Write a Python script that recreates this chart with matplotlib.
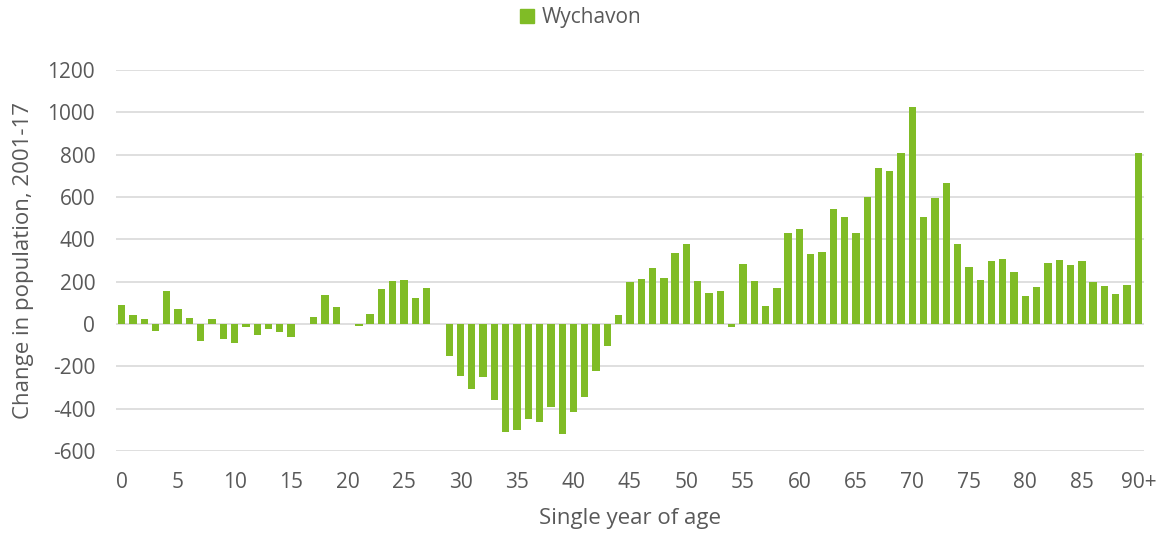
import numpy as np
import matplotlib
matplotlib.use('Agg')
import matplotlib.pyplot as plt
from matplotlib.patches import Patch

plt.rcParams['font.family'] = ['Open Sans', 'DejaVu Sans']

# change in population 2001-17 by single year of age (0 .. 90+)
ages = [str(a) for a in range(90)] + ['90+']
change = [88, 43, 22, -35, 156, 73, 28, -82, 22, -69,
          -90, -16, -50, -22, -38, -60, 0, 33, 139, 80,
          0, -8, 46, 166, 204, 210, 125, 172, 0, -152,
          -248, -306, -251, -360, -508, -502, -448, -464, -393, -518,
          -414, -344, -221, -103, 44, 200, 212, 265, 215, 336,
          379, 204, 148, 156, -16, 283, 204, 84, 172, 431,
          447, 331, 341, 545, 507, 432, 601, 739, 725, 808,
          1026, 507, 594, 665, 380, 270, 208, 297, 306, 246,
          131, 177, 287, 300, 278, 298, 197, 180, 142, 183,
          808]
series_name = 'Wychavon'
y_ticks = list(range(-600, 1201, 200))
x_tick_pos = list(range(0, 91, 5))
x_tick_labels = [ages[i] for i in x_tick_pos]

bar_color = '#80BC26'
text_color = '#595959'

fig = plt.figure(figsize=(11.62, 5.38), dpi=100)
ax = fig.add_axes([0.0998, 0.1617, 0.8847, 0.7082])

x = np.arange(len(ages))
ax.bar(x, change, width=0.65, color=bar_color, zorder=3)

ax.set_xlim(-0.5, 90.5)
ax.set_ylim(-600, 1200)
ax.set_yticks(y_ticks)
ax.set_yticklabels([str(v) for v in y_ticks])
ax.set_xticks(x_tick_pos)
ax.set_xticklabels(x_tick_labels)

ax.grid(axis='y', color='#D9D9D9', linewidth=1.2, zorder=0)
for s in ax.spines.values():
    s.set_visible(False)
ax.tick_params(axis='both', length=0, labelsize=15, colors=text_color, pad=15)

ax.set_xlabel('Single year of age', fontsize=16, color=text_color, labelpad=11)
ax.set_ylabel('Change in population, 2001-17', fontsize=16, color=text_color, labelpad=10)

fig.legend(handles=[Patch(color=bar_color, label=series_name)],
           loc='center', bbox_to_anchor=(0.5, 0.967), frameon=False,
           fontsize=15, labelcolor=text_color, handlelength=0.65, handleheight=0.65,
           handletextpad=0.4)

fig.savefig('out.png', dpi=100)
